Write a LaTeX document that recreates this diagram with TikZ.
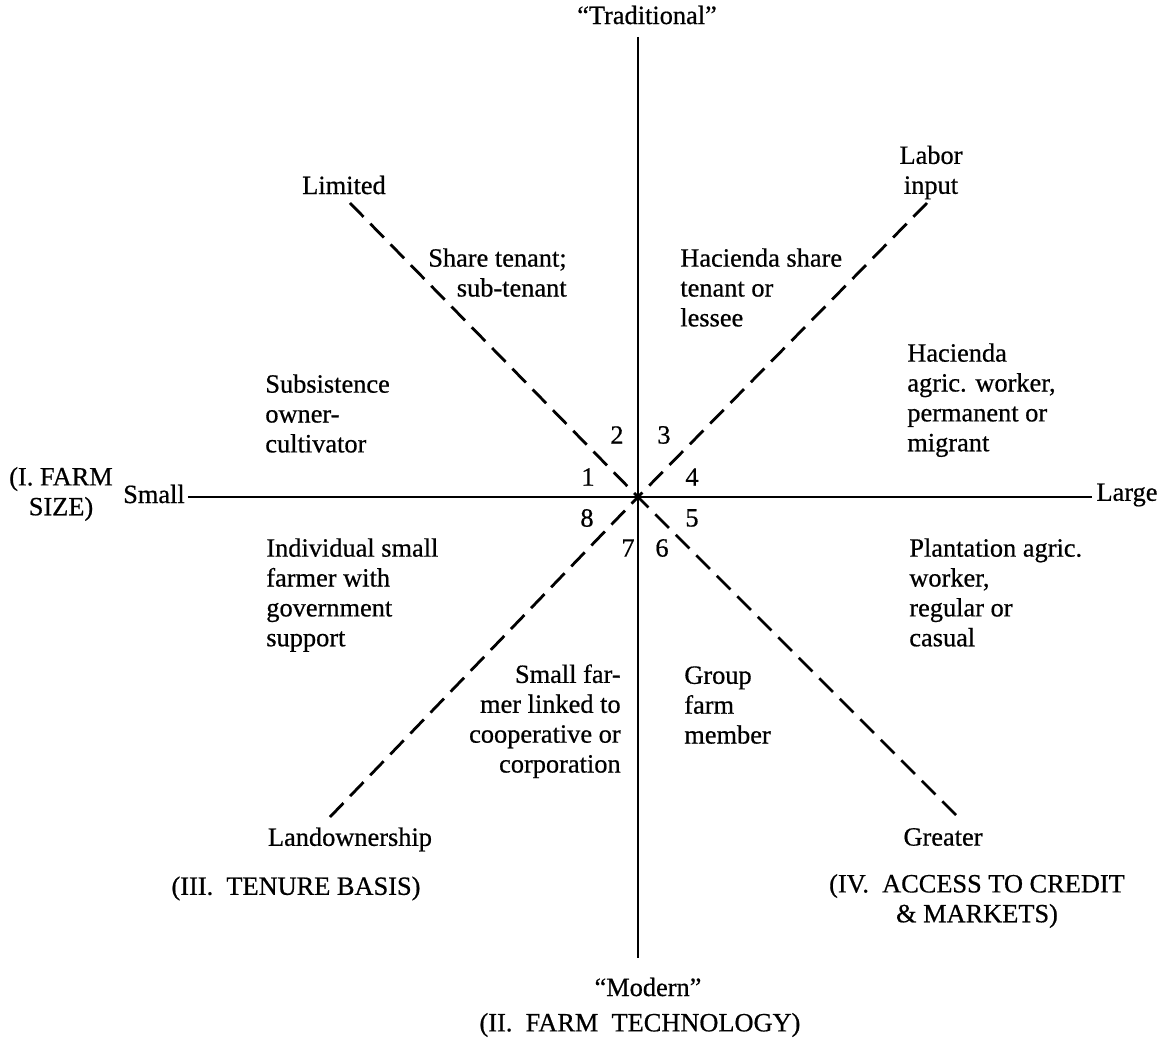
\documentclass[tikz,border=0pt]{standalone}
\usepackage{fontspec}
\setmainfont{Liberation Serif}[FakeBold=0.6]
\usetikzlibrary{positioning}

\begin{document}
\begin{tikzpicture}[node distance=1cm,
    every node/.style={font=\fontsize{15}{17}\selectfont, inner sep=0pt},
    axis/.style={line width=1.6pt},
    dashaxis/.style={line width=1.6pt, dash pattern=on 11pt off 5.5pt},
    sector/.style={align=left, anchor=north west}]

        \fill [white] (-12.76,-10.98) rectangle (10.64,9.94);

        % Eixos
        \coordinate (origin) at (0,0);
        \coordinate (tradend) at (0,9.2);
        \coordinate (modend) at (0,-9.22);
        \coordinate (smallend) at (-9.0,0);
        \coordinate (largeend) at (9.08,0);
        \coordinate (ul) at (-5.76,5.88);
        \coordinate (ur) at (5.78,5.88);
        \coordinate (ll) at (-6.16,-6.4);
        \coordinate (lr) at (6.36,-6.36);

        \draw [axis] (tradend) -- (modend);
        \draw [axis] (smallend) -- (largeend);
        \draw [dashaxis] (ul) -- (origin);
        \draw [dashaxis] (ur) -- (origin);
        \draw [dashaxis] (ll) -- (origin);
        \draw [dashaxis] (lr) -- (origin);

        % Extremos
        \node [above of=tradend, node distance=0.44cm, xshift=0.18cm] (traditional) {“Traditional”};
        \node [below of=modend, node distance=0.58cm, xshift=0.2cm] (modern) {“Modern”};
        \node [below of=modern, node distance=0.76cm, xshift=-0.16cm] (technology) {(II.\ \ FARM\ \ TECHNOLOGY)};
        \node [left of=smallend, node distance=0.68cm, yshift=0.06cm] (small) {Small};
        \node [left of=small, node distance=1.86cm, align=center] (farmsize) {(I. FARM\\SIZE)};
        \node [right of=largeend, node distance=0.7cm, yshift=0.04cm] (large) {Large};
        \node [above of=ul, node distance=0.36cm, xshift=-0.12cm] (limited) {Limited};
        \node [above of=ur, node distance=0.61cm, xshift=0.08cm, align=center] (labor) {Labor\\input};
        \node [below of=ll, node distance=0.45cm, xshift=0.4cm] (landownership) {Landownership};
        \node [below of=lr, node distance=0.44cm, xshift=-0.26cm] (greater) {Greater};
        \node [below of=landownership, node distance=0.98cm, xshift=-1.08cm] (tenure) {(III.\ \ TENURE BASIS)};
        \node [below of=greater, node distance=1.28cm, xshift=0.68cm, align=center] (credit) {(IV.\ \ ACCESS TO CREDIT\\\& MARKETS)};

        % Setores
        \node [sector, anchor=north east, align=right] (share) at (-1.42,4.98) {Share tenant;\\sub-tenant};
        \node [sector] (subsistence) at (-7.46,2.46) {Subsistence\\owner-\\cultivator};
        \node [sector] (haciendashare) at (0.84,4.98) {Hacienda share\\tenant or\\lessee};
        \node [sector] (haciendaworker) at (5.38,3.08) {Hacienda\\agric. worker,\\permanent or\\migrant};
        \node [sector] (individual) at (-7.44,-0.82) {Individual small\\farmer with\\government\\support};
        \node [sector] (plantation) at (5.42,-0.82) {Plantation agric.\\worker,\\regular or\\casual};
        \node [sector, anchor=north east, align=right] (cooperative) at (-0.34,-3.34) {Small far-\\mer linked to\\cooperative or\\corporation};
        \node [sector] (group) at (0.92,-3.38) {Group\\farm\\member};

        % Números
        \node (n1) at (-1.0,0.4) {1};
        \node (n2) at (-0.42,1.24) {2};
        \node (n3) at (0.52,1.24) {3};
        \node (n4) at (1.08,0.4) {4};
        \node (n5) at (1.08,-0.42) {5};
        \node (n6) at (0.48,-1.02) {6};
        \node (n7) at (-0.2,-1.02) {7};
        \node (n8) at (-1.02,-0.42) {8};

    \end{tikzpicture}
\end{document}
